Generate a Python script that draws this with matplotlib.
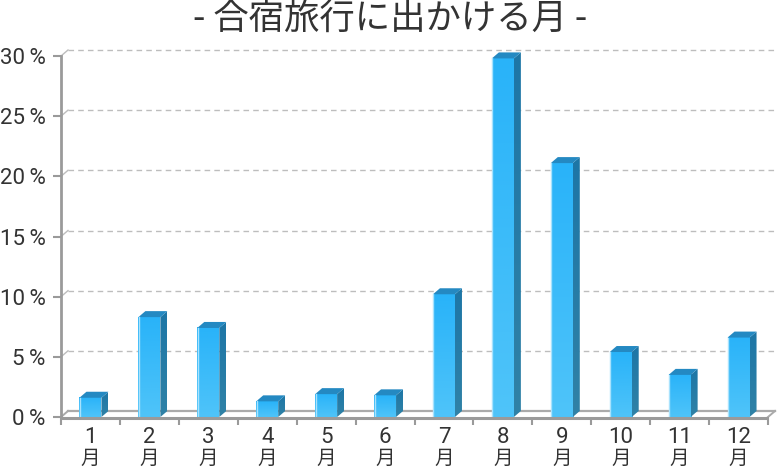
import numpy as np
import matplotlib
matplotlib.use('Agg')
import matplotlib.pyplot as plt
from matplotlib.patches import Polygon
from matplotlib.colors import LinearSegmentedColormap
from matplotlib.transforms import blended_transform_factory

# ---- data ----
title = '- 合宿旅行に出かける月 -'
months = ['1', '2', '3', '4', '5', '6', '7', '8', '9', '10', '11', '12']
month_suffix = '月'
values = [1.6, 8.3, 7.4, 1.3, 1.9, 1.8, 10.2, 29.8, 21.1, 5.4, 3.5, 6.6]
y_ticks = [0, 5, 10, 15, 20, 25, 30]

plt.rcParams['font.family'] = ['Roboto', 'Noto Sans CJK JP', 'DejaVu Sans']

W, H = 780, 467
fig = plt.figure(figsize=(W / 100, H / 100), dpi=100)
px_per_unit = 361 / 30.0
ymax = 31.0
ax_h = ymax * px_per_unit
ax = fig.add_axes([61 / W, (H - 417) / H, 707 / W, ax_h / H])

n = len(values)
DX = 7 / (707 / n)          # depth offset in x (data units)
DY = 6 / px_per_unit        # depth offset in y (data units)
BW = 22 / (707 / n)         # front face width

GRID = '#bdbdbd'
AXC = '#9a9a9a'

# gridlines with 3D offset
for v in y_ticks[1:]:
    ax.plot([DX, n + DX], [v + DY, v + DY], ls=(0, (4, 3)), color=GRID, lw=1, zorder=1, clip_on=False)
    ax.plot([0, DX], [v, v + DY], color=GRID, lw=1, zorder=1, clip_on=False)

# floor
ax.plot([DX, n + DX], [DY, DY], color='#aaaaaa', lw=1.6, zorder=1, clip_on=False)
ax.plot([0, DX], [0, DY], color='#aaaaaa', lw=1.4, zorder=1, clip_on=False)
ax.plot([n, n + DX], [0, DY], color='#aaaaaa', lw=1.4, zorder=1, clip_on=False)

front_cmap = LinearSegmentedColormap.from_list('front', ['#4fc4f9', '#29b3f9'])
side_cmap = LinearSegmentedColormap.from_list('side', ['#3082a6', '#1d76a7'])
grad = np.linspace(0, 1, 256).reshape(-1, 1)

for i, v in enumerate(values):
    c = i + 0.5
    x0, x1 = c - BW / 2, c + BW / 2
    # front face
    ax.imshow(grad, extent=(x0, x1, 0, v), origin='lower', cmap=front_cmap,
              aspect='auto', interpolation='bilinear', zorder=3)
    ax.plot([x0 + 0.008, x0 + 0.008], [0, v], color='#a8e2fd', lw=1, zorder=4)
    # side face
    side = Polygon([(x1, 0), (x1 + DX, DY), (x1 + DX, v + DY), (x1, v)], closed=True,
                   facecolor='none', edgecolor='none')
    ax.add_patch(side)
    im = ax.imshow(grad, extent=(x1, x1 + DX, 0, v + DY), origin='lower', cmap=side_cmap,
                   aspect='auto', interpolation='bilinear', zorder=3)
    im.set_clip_path(side)
    # top face
    top = Polygon([(x0, v), (x1, v), (x1 + DX, v + DY), (x0 + DX, v + DY)], closed=True,
                  facecolor='#2489c2', edgecolor='none', zorder=3)
    ax.add_patch(top)

# front floor line
ax.plot([0, n], [-0.1, -0.1], color=AXC, lw=2.2, zorder=5, clip_on=False, solid_capstyle='butt')

ax.set_xlim(0, n)
ax.set_ylim(0, ymax)
ax.set_aspect('auto')

for s in ['top', 'right', 'bottom']:
    ax.spines[s].set_visible(False)
ax.spines['left'].set_color(AXC)
ax.spines['left'].set_linewidth(2)
ax.spines['left'].set_bounds(-0.1, 30)

ax.set_yticks(y_ticks)
ax.set_yticklabels([f'{v}\u2009%' for v in y_ticks])
ax.tick_params(axis='y', length=6, width=1.5, color=AXC, pad=5, labelsize=16, labelcolor='#333333')

ax.set_xticks(np.arange(n + 1))
ax.set_xticklabels([])
ax.set_xticks(np.arange(n) + 0.5, minor=True)
ax.set_xticklabels(months, minor=True)
ax.tick_params(axis='x', which='major', length=6, width=1.5, color=AXC)
ax.tick_params(axis='x', which='minor', length=0, pad=7, labelsize=16, labelcolor='#333333')

trans = blended_transform_factory(ax.transData, fig.transFigure)
for i in range(n):
    ax.text(i + 0.5, 1 - 458 / H, month_suffix, transform=trans, ha='center', va='center',
            fontsize=14, color='#333333', family=['Noto Sans CJK JP', 'DejaVu Sans'])

fig.text(0.5, 1 - 20 / H, title, ha='center', va='center', fontsize=25.5, color='#333333',
         family=['Noto Sans CJK JP', 'DejaVu Sans'])

fig.savefig('out.png', dpi=100)
